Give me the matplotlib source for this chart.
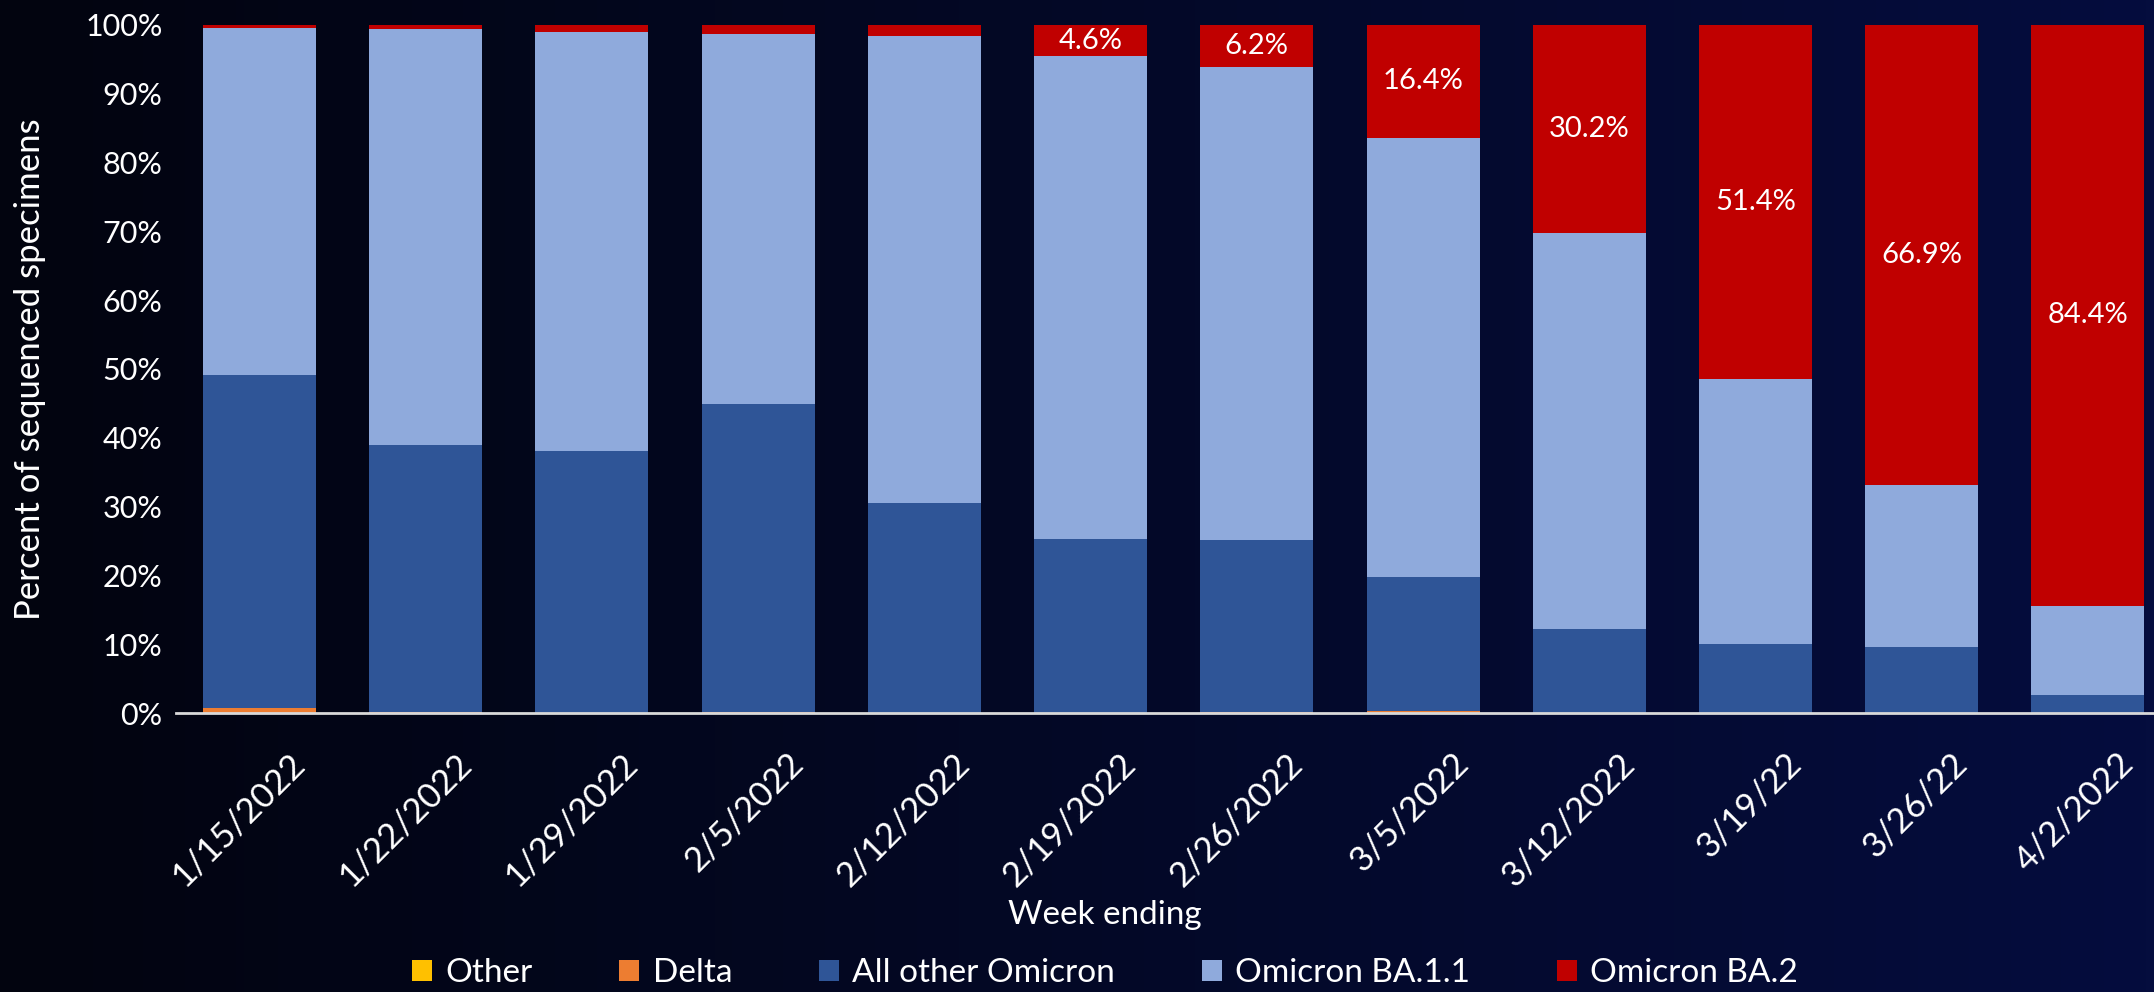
import matplotlib
matplotlib.use("Agg")
import matplotlib.pyplot as plt
import matplotlib.transforms as mtransforms
import numpy as np

plt.rcParams["font.family"] = ["Lato", "DejaVu Sans"]

weeks = ["1/15/2022", "1/22/2022", "1/29/2022", "2/5/2022", "2/12/2022", "2/19/2022",
         "2/26/2022", "3/5/2022", "3/12/2022", "3/19/22", "3/26/22", "4/2/2022"]
other = [0.0, 0.0, 0.0, 0.0, 0.0, 0.0, 0.0, 0.0, 0.0, 0.0, 0.0, 0.0]
delta = [0.8, 0.1, 0.0, 0.1, 0.0, 0.0, 0.1, 0.3, 0.0, 0.0, 0.0, 0.0]
other_omicron = [48.3, 38.8, 38.1, 44.8, 30.5, 25.3, 25.0, 19.5, 12.2, 10.0, 9.6, 2.6]
ba11 = [50.5, 60.5, 60.9, 53.7, 67.9, 70.1, 68.7, 63.8, 57.6, 38.6, 23.5, 13.0]
ba2 = [0.4, 0.6, 1.0, 1.4, 1.6, 4.6, 6.2, 16.4, 30.2, 51.4, 66.9, 84.4]
label_min = 4.0

series = [("Other", other, "#FFC000"),
          ("Delta", delta, "#ED7D31"),
          ("All other Omicron", other_omicron, "#2F5597"),
          ("Omicron BA.1.1", ba11, "#8FAADC"),
          ("Omicron BA.2", ba2, "#C00000")]

fig = plt.figure(figsize=(21.54, 9.92), dpi=100)

# gradient background
bg = fig.add_axes([0, 0, 1, 1], zorder=-10)
grad = np.linspace(0, 1, 256)
c0 = np.array([2, 4, 15]) / 255
c1 = np.array([5, 13, 62]) / 255
img = c0[None, None, :] + (c1 - c0)[None, None, :] * grad[None, :, None]
bg.imshow(img, aspect="auto", extent=[0, 1, 0, 1])
bg.axis("off")

ax = fig.add_axes([0.0819, 0.2812, 0.926, 0.6938])
ax.patch.set_alpha(0)

x = np.arange(len(weeks))
bottom = np.zeros(len(weeks))
for name, vals, color in series:
    vals = np.array(vals)
    ax.bar(x, vals, 0.68, bottom=bottom, color=color, label=name, zorder=2)
    if name == "Omicron BA.2":
        for xi, b, v in zip(x, bottom, vals):
            if v >= label_min:
                ax.text(xi, b + v / 2, f"{v:.1f}%", ha="center", va="center",
                        color="white", fontsize=21, zorder=3)
    bottom += vals

ax.set_xlim(-0.5, len(weeks) - 0.5)
ax.set_ylim(0, 100)
ax.set_yticks(range(0, 101, 10))
ax.set_yticklabels([f"{v}%" for v in range(0, 101, 10)])
ax.tick_params(axis="y", length=0, colors="white", labelsize=22, pad=10)
ax.tick_params(axis="x", length=0, colors="white", labelsize=25, pad=14)
ax.set_xticks(x)
ax.set_xticklabels(weeks, rotation=45, ha="right", va="center", rotation_mode="anchor")
offset = mtransforms.ScaledTranslation(0.4, -0.26, fig.dpi_scale_trans)
for lab in ax.get_xticklabels():
    lab.set_transform(lab.get_transform() + offset)

for s in ["top", "right", "left"]:
    ax.spines[s].set_visible(False)
ax.spines["bottom"].set_color("#D9D9D9")
ax.spines["bottom"].set_linewidth(2)
ax.spines["bottom"].set_zorder(4)

ax.set_ylabel("Percent of sequenced specimens", color="white", fontsize=25)
ax.yaxis.set_label_coords(-0.0654, 0.5)
fig.text(0.513, 0.078, "Week ending", color="white", fontsize=24, ha="center", va="center")

leg = fig.legend(loc="center", bbox_to_anchor=(0.513, 0.019), ncol=5, frameon=False,
                 fontsize=24, labelcolor="white", handlelength=0.6, handleheight=0.6,
                 handletextpad=0.4, columnspacing=2.6)

fig.savefig("out.png", dpi=100)
